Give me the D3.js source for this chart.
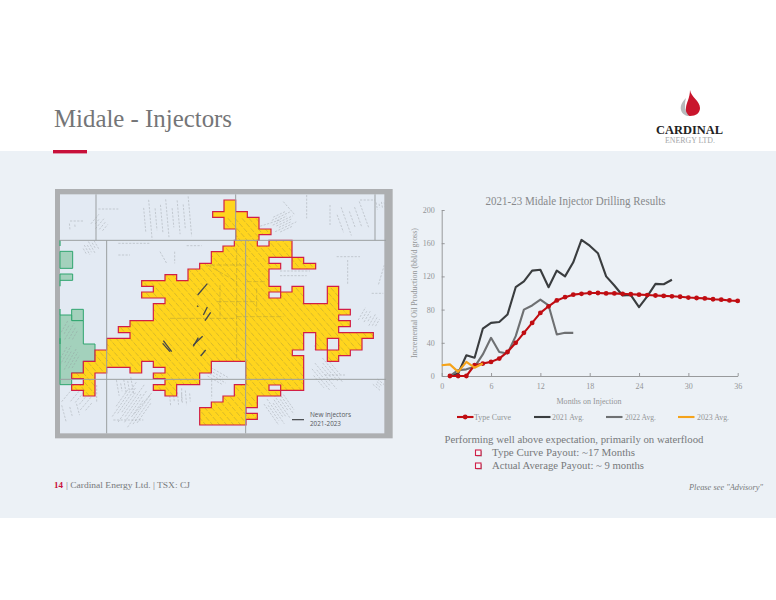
<!DOCTYPE html>
<html>
<head>
<meta charset="utf-8">
<script src="https://cdn.jsdelivr.net/npm/d3@7"></script>
<style>
html, body { margin: 0; padding: 0; background: #fff; }
svg { display: block; }
text { font-family: "Liberation Serif", serif; }
</style>
</head>
<body>
<div id="chart"></div>
<script>
// chart data, months on injection vs bbl/d
var type_months = d3.range(1, 37);
var type_curve = [0,0,0,13,15,17,21,29,40,52,64,76,84,91,95,98,99,100,100,99.5,99.5,99,98.5,98,97.5,97,96.5,96,95.5,94.5,94,93.5,92.5,92,91,90.5];
var months_2021 = d3.range(1, 29);
var avg_2021 = [0,3,25,22,57,64,65,74,107,114,127,128,107,127,120,137,164,157,148,120,109,97,97.5,83,96,111,110.5,116];
var months_2022 = d3.range(1, 17);
var avg_2022 = [0,7,8,11,26,46,29,27,48,80,85,92,85,50,52,52];
var months_2023 = [0,1,2,3,4,5];
var avg_2023 = [13,14,5,17,10,15];
var x_ticks = [0,6,12,18,24,30,36];
var y_ticks = [0,40,80,120,160,200];
var legend_names = ["Type Curve","2021 Avg.","2022 Avg.","2023 Avg."];
var legend_colors = ["#c00d12","#3a3d3f","#6e7072","#f5a31a"];

// map outlines, in map units (1050 x 765 across the panel area)
var land_outline = [[522,45],[557,45],[557,80],[592,80],[592,97],[627,97],[627,132],[663,132],[663,149],[627,149],[627,166],[622,166],[622,183],[657,183],[657,166],[726,166],[726,217],[761,217],[761,235],[797,235],[797,252],[726,252],[726,217],[657,217],[657,235],[692,235],[692,252],[657,252],[657,304],[692,304],[692,321],[726,321],[726,304],[761,304],[761,356],[832,356],[832,304],[866,304],[866,373],[901,373],[901,390],[866,390],[866,407],[901,407],[901,425],[866,425],[866,443],[970,443],[970,460],[936,460],[936,495],[901,495],[901,512],[866,512],[866,529],[832,529],[832,495],[797,495],[797,443],[761,443],[761,495],[727,495],[727,512],[761,512],[761,616],[692,616],[692,633],[622,633],[622,668],[588,668],[588,685],[622,685],[622,703],[588,703],[588,720],[449,720],[449,668],[484,668],[484,651],[519,651],[519,633],[553,633],[553,599],[587,599],[587,529],[484,529],[484,564],[449,564],[449,599],[380,599],[380,633],[345,633],[345,616],[310,616],[310,599],[345,599],[345,581],[310,581],[310,564],[345,564],[345,547],[310,547],[310,529],[275,529],[275,564],[240,564],[240,547],[170,547],[170,564],[135,564],[135,633],[100,633],[100,616],[65,616],[65,599],[100,599],[100,581],[65,581],[65,564],[100,564],[100,529],[135,529],[135,495],[170,495],[170,460],[240,460],[240,443],[205,443],[205,425],[240,425],[240,407],[310,407],[310,356],[345,356],[345,339],[275,339],[275,321],[310,321],[310,304],[275,304],[275,287],[345,287],[345,269],[380,269],[380,287],[414,287],[414,252],[449,252],[449,235],[484,235],[484,200],[519,200],[519,183],[553,183],[553,166],[557,166],[557,132],[522,132],[522,97],[488,97],[488,80],[522,80]];
var land_holes = [
  [[657,321],[692,321],[692,339],[657,339]],
  [[832,460],[866,460],[866,495],[832,495]],
  [[657,600],[692,600],[692,616],[657,616]]
];
var green_blocks = [
  [[30,199],[68,199],[68,250],[30,250]],
  [[30,267],[68,267],[68,286],[30,286]],
  [[65,373],[100,373],[100,407],[65,407]],
  [[30,390],[65,390],[65,407],[100,407],[100,477],[135,477],[135,529],[100,529],[100,564],[65,564],[65,599],[30,599]]
];
var green_edges = [[[30,166],[30,183]],[[30,286],[30,304]],[[30,372],[30,390]],[[30,460],[30,477]]];
var grid_lines = [[30,166,1008,166],[30,583,1008,583],[138,28,138,166],[170,166,170,745],[557,28,557,166],[587,166,587,745],[975,28,975,166]];
var injectors = [[443,330,472,296],[441,362,445,365],[460,390,472,366],[465,407,482,382],[430,484,445,458],[430,480,458,454],[340,467,365,500],[338,475,360,500],[452,513,467,495]];
// patches of old well lines: centre x, centre y, half length, half width, angle, gap
var well_patches = [
  [350,100,60,70,85,17],[700,110,35,25,-25,7],[150,115,22,20,-50,10],[60,125,10,15,85,16],
  [900,105,45,45,70,19],[120,190,20,22,60,8],[1000,60,12,20,80,8],[960,400,22,28,-60,9],
  [60,520,40,25,-60,9],[60,440,30,22,-60,10],[250,660,68,40,-55,8],[100,650,25,30,-50,13],
  [60,680,25,25,75,22],[390,640,22,30,85,12],[225,605,25,22,80,11],[690,670,45,32,55,8],
  [500,575,35,15,30,9],[830,570,50,32,50,9],[985,600,14,12,40,7]
];
// single lines left over on the map
var stray_lines = [[145,72,205,72],[60,108,100,108],[205,175,300,175],[205,210,240,210],[330,200,350,235],[374,200,374,235],
  [410,182,455,182],[860,215,930,215],[893,225,893,300],[965,325,1000,325],[630,295,650,295],[690,258,780,258],[690,272,770,272],
  [1003,240,985,300],[610,130,690,105],[840,60,840,120],[770,30,770,100],[190,705,280,705],[395,610,395,650],[795,480,795,495],
  [825,570,885,570],[485,585,485,640],[35,650,60,620],[140,600,140,650],[700,50,735,90],[930,45,975,45],[300,630,250,690]];
var length_steps = [1,0.62,0.85,0.48,0.95,0.7,0.55];

var width = 776, height = 600;

var svg = d3.select("#chart").append("svg")
  .attr("width", width)
  .attr("height", height);

// slide background
svg.append("rect").attr("x", 0).attr("y", 151).attr("width", width).attr("height", 367).attr("fill", "#ecf1f6");
svg.append("rect").attr("x", 53).attr("y", 150).attr("width", 34).attr("height", 3.4).attr("fill", "#c8103a");

function put_text(str, x, y, size, color, len, anchor){
  var t = svg.append("text")
    .attr("x", x).attr("y", y)
    .attr("font-size", size)
    .attr("fill", color)
    .attr("text-anchor", anchor || "start")
    .text(str);
  if(len) t.attr("textLength", len).attr("lengthAdjust", "spacingAndGlyphs");
  return t;
}

put_text("Midale - Injectors", 54, 127, 26, "#747577", 178);

// logo
var logo = svg.append("g");
logo.append("path")
  .attr("d", "M690,90 C691,97 700,101 700,108 C700,113 696,116 690,116 C686,116 685,112 686,108 C686,103 690,98 690,90 Z")
  .attr("fill", "#c9152c");
logo.append("path")
  .attr("d", "M686,98 C682,102 680,106 681,110 C682,114 686,116 689,116 C685,112 684,105 686,98 Z")
  .attr("fill", "#b8babc");
put_text("CARDINAL", 656, 134, 12.5, "#222", 67).attr("font-weight", "bold");
put_text("ENERGY LTD.", 665, 143, 8, "#a4a6a8", 50);

// map panel
var mx = d3.scaleLinear().domain([0, 1050]).range([50, 400]);
var my = d3.scaleLinear().domain([0, 765]).range([185, 440]);
var path_of = function(pts){
  return "M" + pts.map(function(d){ return mx(d[0]) + "," + my(d[1]); }).join("L") + "Z";
};
function draw_segments(sel, rows){
  return sel.selectAll("line.seg").data(rows).enter().append("line").attr("class", "seg")
    .attr("x1", function(d){ return mx(d[0]); }).attr("y1", function(d){ return my(d[1]); })
    .attr("x2", function(d){ return mx(d[2]); }).attr("y2", function(d){ return my(d[3]); });
}

svg.append("rect").attr("x", mx(15)).attr("y", my(12)).attr("width", mx(1028) - mx(15)).attr("height", my(760) - my(12)).attr("fill", "#adafb1");
svg.append("rect").attr("x", mx(30)).attr("y", my(28)).attr("width", mx(1003) - mx(30)).attr("height", my(745) - my(28)).attr("fill", "#e3eaf3");

var land_path = path_of(land_outline) + land_holes.map(path_of).join("");
var defs = svg.append("defs");
defs.append("clipPath").attr("id", "land-clip").append("path").attr("d", land_path).attr("clip-rule", "evenodd");
defs.append("clipPath").attr("id", "panel-clip").append("rect")
  .attr("x", mx(30)).attr("y", my(28)).attr("width", mx(1003) - mx(30)).attr("height", my(745) - my(28));

// green block to the west
svg.append("g").selectAll("path").data(green_blocks).enter().append("path")
  .attr("d", path_of).attr("fill", "#a3d1bc").attr("stroke", "#2fa56f").attr("stroke-width", 1);
svg.append("g").selectAll("line").data(green_edges).enter().append("line")
  .attr("x1", function(d){ return mx(d[0][0]); }).attr("y1", function(d){ return my(d[0][1]); })
  .attr("x2", function(d){ return mx(d[1][0]); }).attr("y2", function(d){ return my(d[1][1]); })
  .attr("stroke", "#2fa56f").attr("stroke-width", 1.2);

// old wells outside the land
var wells = svg.append("g").attr("clip-path", "url(#panel-clip)")
  .attr("stroke", "#8f959a").attr("stroke-width", 0.4).attr("stroke-dasharray", "2.2 1.4");
well_patches.forEach(function(p, pi){
  var a = p[4] * Math.PI / 180;
  var ux = Math.cos(a), uy = Math.sin(a);
  d3.range(-p[3], p[3] + 0.1, p[5]).forEach(function(o, i){
    var half = p[2] * length_steps[(i + pi) % length_steps.length];
    wells.append("line")
      .attr("x1", mx(p[0] - ux * half - uy * o)).attr("y1", my(p[1] - uy * half + ux * o))
      .attr("x2", mx(p[0] + ux * half - uy * o)).attr("y2", my(p[1] + uy * half + ux * o));
  });
});
draw_segments(wells, stray_lines);

// yellow land
svg.append("path").attr("d", land_path).attr("fill", "#ffd51e").attr("fill-rule", "evenodd");

// well hatching inside the land
var hatch = svg.append("g").attr("clip-path", "url(#land-clip)")
  .attr("stroke", "#9c9040").attr("stroke-width", 0.4).attr("stroke-dasharray", "5 1.6");
d3.range(-600, 1000, 21).forEach(function(o){
  hatch.append("line")
    .attr("x1", mx(o)).attr("y1", my(100))
    .attr("x2", mx(o + 560)).attr("y2", my(740));
});
draw_segments(hatch, [[420,210,560,290],[480,240,600,240],[590,290,650,290],[500,350,620,350],[560,395,700,395],[510,300,510,400],[560,190,560,520],[620,310,620,380],[360,400,560,400]]);

// land outline
svg.append("path").attr("d", land_path).attr("fill", "none").attr("stroke", "#d21e46").attr("stroke-width", 1.2);

// survey grid
var grid = svg.append("g").attr("stroke", "#9b9fa1").attr("stroke-width", 1);
draw_segments(grid, grid_lines);

// new injectors
var inj = svg.append("g").attr("stroke", "#45474a").attr("stroke-width", 1.3);
draw_segments(inj, injectors);

svg.append("line").attr("x1", mx(726)).attr("x2", mx(762)).attr("y1", my(704)).attr("y2", my(704))
  .attr("stroke", "#45474a").attr("stroke-width", 1.2);
put_text("New injectors", mx(780), my(697), 6.6, "#55585b", 41).style("font-family", "'Open Sans', sans-serif");
put_text("2021-2023", mx(780), my(724), 6.6, "#55585b", 31).style("font-family", "'Open Sans', sans-serif");

// production chart
var x = d3.scaleLinear().domain([0, 36]).range([441.7, 737.7]);
var y = d3.scaleLinear().domain([0, 200]).range([376, 210]);

var x_axis = svg.append("g").attr("transform", "translate(0,376)")
  .call(d3.axisBottom(x).tickValues(x_ticks).tickSizeInner(-3).tickSizeOuter(0).tickPadding(7));
var y_axis = svg.append("g").attr("transform", "translate(441.7,0)")
  .call(d3.axisLeft(y).tickValues(y_ticks).tickSizeInner(-3).tickSizeOuter(0).tickPadding(7));
[x_axis, y_axis].forEach(function(a){
  a.selectAll("path, line").attr("stroke", "#8e9092").attr("stroke-width", 0.9);
  a.selectAll("text").attr("fill", "#939597").attr("font-size", 8).style("font-family", "'Liberation Serif', serif");
});

var line = d3.line()
  .x(function(d){ return x(d[0]); })
  .y(function(d){ return y(d[1]); });

function draw_series(months, values, color){
  var pts = d3.zip(months, values);
  svg.append("path").datum(pts)
    .attr("d", line)
    .attr("fill", "none")
    .attr("stroke", color)
    .attr("stroke-width", 2.1)
    .attr("stroke-linejoin", "round");
  return pts;
}

draw_series(months_2021, avg_2021, legend_colors[1]);
draw_series(months_2022, avg_2022, legend_colors[2]);
var type_pts = draw_series(type_months, type_curve, legend_colors[0]);
svg.append("g").selectAll("circle").data(type_pts).enter().append("circle")
  .attr("cx", function(d){ return x(d[0]); })
  .attr("cy", function(d){ return y(d[1]); })
  .attr("r", 2.4)
  .attr("fill", legend_colors[0]);
draw_series(months_2023, avg_2023, legend_colors[3]);

put_text("2021-23 Midale Injector Drilling Results", 575.6, 205, 11.5, "#87898b", 180, "middle");
put_text("Months on Injection", 589, 404, 7.8, "#939597", 65, "middle");
put_text("Incremental Oil Production (bbl/d gross)", 0, 0, 7.8, "#939597", 130, "middle")
  .attr("transform", "translate(417,293) rotate(-90)");

// chart legend
var legend_x = [457, 534, 606, 678];
var legend_text_x = [474, 552, 625, 697];
var legend_len = [37, 32, 31, 32];
legend_names.forEach(function(name, i){
  svg.append("line")
    .attr("x1", legend_x[i]).attr("x2", legend_x[i] + 16.5)
    .attr("y1", 417).attr("y2", 417)
    .attr("stroke", legend_colors[i]).attr("stroke-width", 2.1);
  if(i == 0){
    svg.append("circle").attr("cx", legend_x[i] + 8.2).attr("cy", 417).attr("r", 2.4).attr("fill", legend_colors[i]);
  }
  put_text(name, legend_text_x[i], 419.5, 8, "#939597", legend_len[i]);
});

// commentary
put_text("Performing well above expectation, primarily on waterflood", 444.5, 442.5, 11.3, "#77797b", 259);
put_text("Type Curve Payout: ~17 Months", 492, 455.5, 11.3, "#77797b", 143);
put_text("Actual Average Payout: ~ 9 months", 492, 468.5, 11.3, "#77797b", 152);
[450, 463].forEach(function(by){
  svg.append("rect").attr("x", 476.5).attr("y", by + 1).attr("width", 5.5).attr("height", 5.5).attr("fill", "#a9abad");
  svg.append("rect").attr("x", 475.5).attr("y", by).attr("width", 5.5).attr("height", 5.5)
    .attr("fill", "#f4f6f9").attr("stroke", "#cf2049").attr("stroke-width", 1.1);
});

// footer
put_text("14", 54, 488, 9, "#c8103a").attr("font-weight", "bold");
put_text("| Cardinal Energy Ltd. | TSX: CJ", 66, 488, 9, "#77797b", 124);
put_text("Please see \"Advisory\"", 763, 490, 8.5, "#77797b", 74, "end").attr("font-style", "italic");
</script>
</body>
</html>
